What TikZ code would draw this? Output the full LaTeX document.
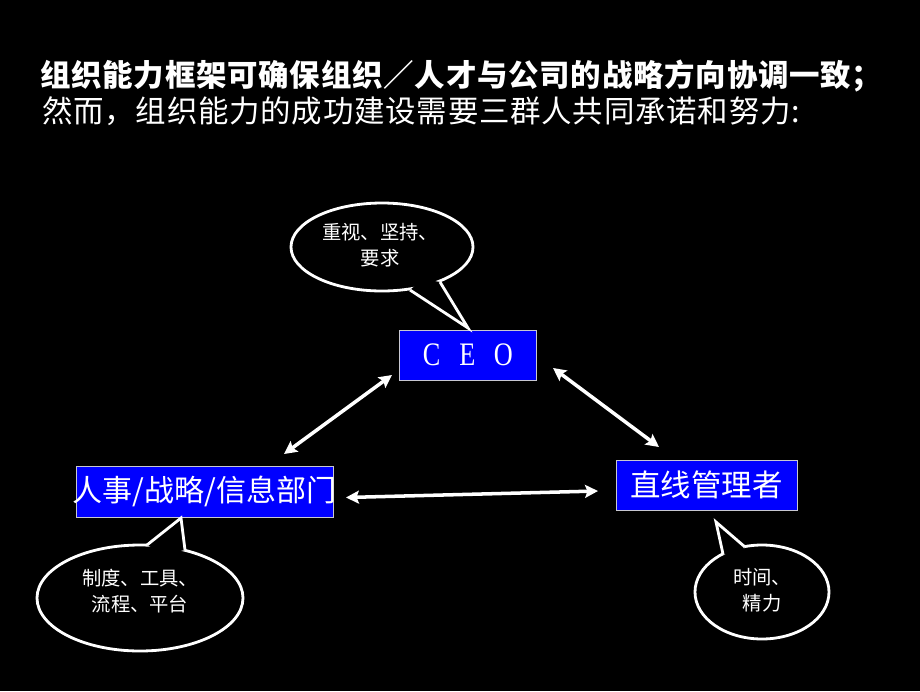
\documentclass[tikz,border=0pt]{standalone}
\usepackage{fontspec}
\setmainfont{Liberation Serif}
\newfontfamily\cjk{Noto Sans CJK SC}
\newfontfamily\cjkt[LetterSpace=2.5]{Noto Sans CJK SC}
\newfontfamily\ceofont[FakeStretch=0.8]{Liberation Serif}
\usetikzlibrary{arrows.meta}
\definecolor{boxblue}{RGB}{0,0,255}
\definecolor{boxedge}{RGB}{200,200,210}
\tikzset{
  rolebox/.style={draw=boxedge, line width=0.8pt, fill=boxblue, text=white, inner sep=0pt},
  bubble/.style={draw=white, line width=2.4pt, fill=black},
  bubbletext/.style={text=white, align=center, font=\cjk\fontsize{16.5}{22}\selectfont, inner sep=0pt},
  link/.style={draw=white, line width=3pt, {Stealth[length=11pt,width=11pt,inset=2pt]}-{Stealth[length=11pt,width=11pt,inset=2pt]}},
  titletext/.style={text=white, anchor=west, inner sep=0pt, font=\cjkt\fontsize{26}{30}\selectfont}
}
\begin{document}
\begin{tikzpicture}[x=0.03cm,y=-0.03cm]
\fill[black] (0,0) rectangle (920,691);
\useasboundingbox (0,0) rectangle (920,691);

% title
\node[titletext, font=\cjkt\bfseries\fontsize{26}{30}\selectfont] (t1) at (40,76) {组织能力框架可确保组织／人才与公司的战略方向协调一致；};
\node[titletext] (t2) at (42,111) {然而，组织能力的成功建设需要三群人共同承诺和努力:};

% boxes
\node[rolebox, minimum width=116.9pt, minimum height=42.7pt] (ceo) at (467.5,355)
  {\ceofont\fontsize{28}{30}\selectfont\makebox[30.7pt]{C}\makebox[30.7pt]{E}\makebox[30.7pt]{O}};
\node[rolebox, minimum width=219.4pt, minimum height=43.5pt] (hr) at (204.5,491.5)
  {\makebox[219.4pt]{\cjk\fontsize{25.6}{28}\selectfont 人事/战略/信息部门}};
\node[rolebox, minimum width=154.5pt, minimum height=42.7pt] (lm) at (706.5,485)
  {\cjk\fontsize{26}{28}\selectfont 直线管理者};

% arrows
\coordinate (a1) at (392,375);
\coordinate (a2) at (284,454);
\coordinate (b1) at (553,368);
\coordinate (b2) at (659,447);
\coordinate (c1) at (346,497.5);
\coordinate (c2) at (598,491);
\draw[link] (a1) -- (a2);
\draw[link] (b1) -- (b2);
\draw[link] (c1) -- (c2);

% callout 1 (CEO)
\draw[bubble] (382,247) ellipse [x radius=91, y radius=44];
\coordinate (p1a) at (410,290);
\coordinate (p1t) at (468,328);
\coordinate (p1b) at (440,282);
\fill[black] (p1a) -- (p1t) -- (p1b) -- (423,279) -- cycle;
\draw[white, line width=2.4pt, line join=miter] (p1a) -- (p1t) -- (p1b);
\node[bubbletext] (q1) at (380,245) {重视、坚持、\\要求};

% callout 2 (HR)
\draw[bubble] (140,598) ellipse [x radius=103, y radius=53];
\coordinate (p2a) at (147,545);
\coordinate (p2t) at (181,518);
\coordinate (p2b) at (185,550);
\fill[black] (p2a) -- (p2t) -- (p2b) -- (165,554) -- cycle;
\draw[white, line width=2.4pt, line join=miter] (p2a) -- (p2t) -- (p2b);
\node[bubbletext] (q2) at (140,591) {制度、工具、\\流程、平台};

% callout 3 (line managers)
\draw[bubble] (762,592) ellipse [x radius=67, y radius=47];
\coordinate (p3a) at (723,554);
\coordinate (p3t) at (716,522);
\coordinate (p3b) at (745,547);
\fill[black] (p3a) -- (p3t) -- (p3b) -- (736,557) -- cycle;
\draw[white, line width=2.4pt, line join=miter] (p3a) -- (p3t) -- (p3b);
\node[bubbletext] (q3) at (762,590) {时间、\\精力};
\end{tikzpicture}
\end{document}
